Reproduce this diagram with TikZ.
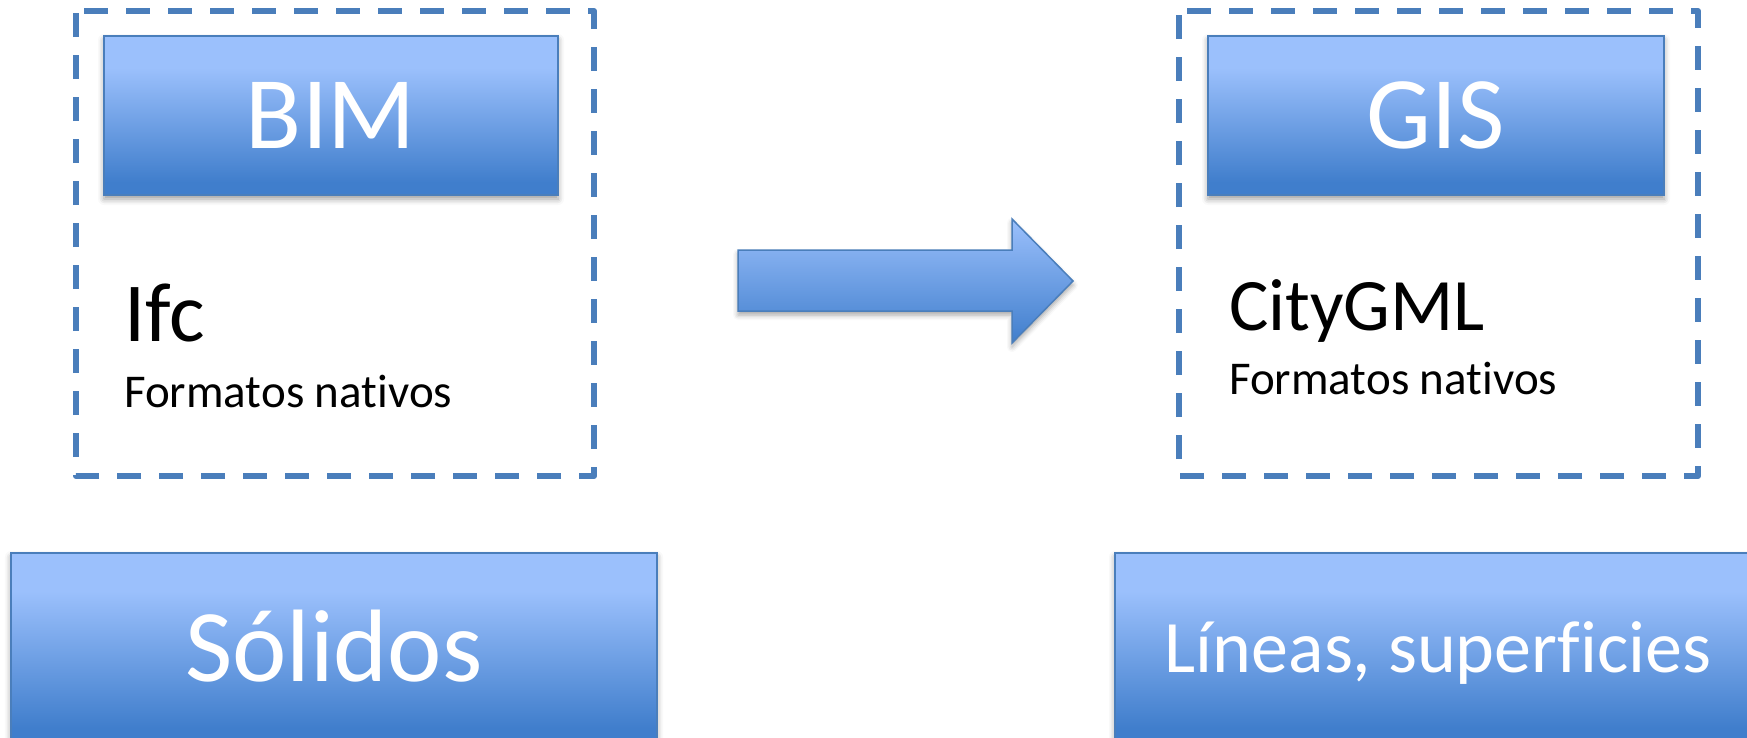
\documentclass[tikz,border=0pt]{standalone}
\usepackage{fontspec}
\setmainfont{Carlito}[Ligatures=CommonOff]
\usetikzlibrary{shadows.blur}

\definecolor{boxlight}{RGB}{155,192,252}
\definecolor{boxdark}{RGB}{64,126,204}
\definecolor{frameblue}{RGB}{74,126,187}

% vertical fills: light on top, dark at the bottom
\pgfdeclareverticalshading{boxfill}{100bp}{color(0bp)=(boxdark); color(29bp)=(boxdark); color(65bp)=(boxlight); color(100bp)=(boxlight)}
\pgfdeclareverticalshading{arrowfill}{100bp}{color(0bp)=(boxdark); color(25bp)=(boxdark); color(75bp)=(boxlight); color(100bp)=(boxlight)}

\tikzset{
  bluebox/.style={draw=frameblue, line width=1.5pt, shading=boxfill,
    blur shadow={shadow xshift=0pt, shadow yshift=-4pt, shadow blur radius=6pt, shadow opacity=40},
    text=white, inner sep=0pt, text depth=0pt},
  groupframe/.style={draw=frameblue, line width=6pt, dash pattern=on 24pt off 18pt, dash phase=34pt, line join=round},
  labeltext/.style={anchor=base west, inner sep=0pt, text=black},
  bigfont/.style={font=\fontsize{103}{124}\selectfont, text height=66pt},
  midfont/.style={font=\fontsize{74}{88}\selectfont, text height=48pt},
  smallfont/.style={font=\fontsize{47}{56}\selectfont},
}

\begin{document}
\begin{tikzpicture}[x=1pt, y=-1pt]
\useasboundingbox (0,0) rectangle (1747,737);

% dashed group frames
\coordinate (bimtl) at (76,11);
\coordinate (bimbr) at (594,476);
\draw[groupframe] (bimtl) -- (bimbr |- bimtl) -- (bimbr) -- (bimtl |- bimbr) -- cycle;
\coordinate (gistl) at (1179,11);
\coordinate (gisbr) at (1698,476);
\draw[groupframe] (gistl) -- (gisbr |- gistl) -- (gisbr) -- (gistl |- gisbr) -- cycle;

% header boxes
\node[bluebox, bigfont, minimum width=454pt, minimum height=159pt] (bim) at (331,115.5) {BIM};
\node[bluebox, bigfont, minimum width=456pt, minimum height=159pt] (gis) at (1436,115.5) {GIS};

% formats
\node[labeltext, font=\fontsize{84}{100}\selectfont] (ifc) at (124,341) {Ifc};
\node[labeltext, smallfont] (bimfmt) at (124,407) {Formatos nativos};
\node[labeltext, midfont] (citygml) at (1229,330) {CityGML};
\node[labeltext, smallfont] (gisfmt) at (1229,394) {Formatos nativos};

% block arrow
\draw[draw=frameblue, line width=1.5pt, line join=miter, shading=arrowfill,
      blur shadow={shadow xshift=0pt, shadow yshift=-4pt, shadow blur radius=5pt, shadow opacity=35}]
  (738,250) -- (1012,250) -- (1012,219) -- (1073,281) -- (1012,343) -- (1012,311) -- (738,311) -- cycle;

% geometry boxes
\node[bluebox, bigfont, minimum width=646pt, minimum height=190pt] (solidos) at (334,648) {Sólidos};
\node[bluebox, midfont, minimum width=646pt, minimum height=190pt] (lineas) at (1438,648) {Líneas, superficies};
\end{tikzpicture}
\end{document}
